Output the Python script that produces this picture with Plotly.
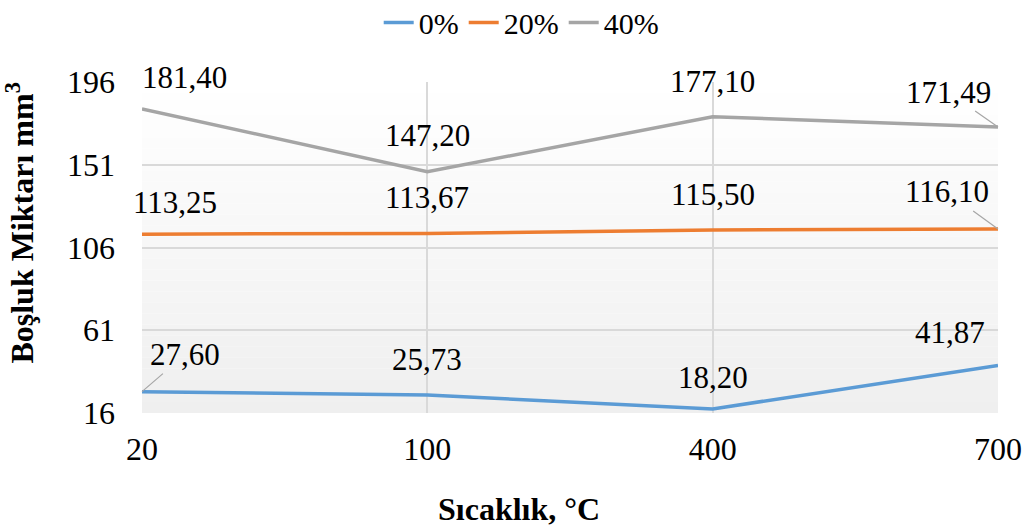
import plotly.graph_objects as go

temps = ["20", "100", "400", "700"]
series_names = ["0%", "20%", "40%"]
void_0 = [27.60, 25.73, 18.20, 41.87]
void_20 = [113.25, 113.67, 115.50, 116.10]
void_40 = [181.40, 147.20, 177.10, 171.49]
y_ticks = [16, 61, 106, 151, 196]

colors = ["#5B9BD5", "#ED7D31", "#A5A5A5"]
FONT = "Liberation Serif"

# label offsets in px (dx, dy, leader line?)
label_pos = [
    [(43, -37, True), (0, -36, False), (0, -31, False), (-48, -33, False)],
    [(33, -32, False), (0, -36, False), (0, -36, False), (-51, -37, True)],
    [(42, -31, False), (0, -36, False), (0, -35, False), (-50, -35, True)],
]

fig = go.Figure()

# gradient plot background: white at the top to light grey at the bottom
n_bands = 30
for i in range(n_bands):
    g = 255 - int(round(16 * (i + 0.5) / n_bands))
    fig.add_shape(type="rect", xref="paper", yref="paper",
                  x0=0, x1=1, y0=1 - (i + 1) / n_bands, y1=1 - i / n_bands,
                  fillcolor=f"rgb({g},{g},{g})", line_width=0, layer="below")

all_vals = [void_0, void_20, void_40]
for name, vals, col in zip(series_names, all_vals, colors):
    fig.add_trace(go.Scatter(x=temps, y=vals, name=name, mode="lines",
                             line=dict(color=col, width=3.5)))

for vals, offs in zip(all_vals, label_pos):
    for i, (v, (dx, dy, leader)) in enumerate(zip(vals, offs)):
        txt = f"{v:.2f}".replace(".", ",")
        if leader:
            fig.add_annotation(x=i, y=v, text=txt, showarrow=True, arrowhead=0,
                               arrowwidth=1.2, arrowcolor="#A6A6A6", ax=dx, ay=dy,
                               standoff=0, font=dict(family=FONT, size=31, color="black"))
        else:
            fig.add_annotation(x=i, y=v, text=txt, showarrow=False,
                               xshift=dx, yshift=-dy,
                               font=dict(family=FONT, size=31, color="black"))

fig.add_annotation(xref="paper", yref="paper", x=0.44, y=-0.29,
                   xanchor="center", yanchor="middle",
                   text="<b>Sıcaklık, °C</b>", showarrow=False,
                   font=dict(family=FONT, size=32, color="black"))
fig.add_annotation(xref="paper", yref="paper", x=-0.143, y=0.574, textangle=-90,
                   xanchor="center", yanchor="middle",
                   text="<b>Boşluk Miktarı mm<sup>3</sup></b>", showarrow=False,
                   font=dict(family=FONT, size=32, color="black"))

fig.update_layout(
    width=1024, height=527,
    margin=dict(l=142, r=26, t=82, b=114, autoexpand=False),
    paper_bgcolor="white", plot_bgcolor="rgba(0,0,0,0)",
    font=dict(family=FONT, size=31, color="black"),
    showlegend=True,
    legend=dict(orientation="h", x=0.443, xanchor="center", y=1.258, yanchor="top",
                font=dict(family="Liberation Serif, serif", size=30),
                bgcolor="rgba(0,0,0,0)"),
)
fig.update_xaxes(type="category", range=[0, 3], showgrid=True, gridcolor="#D9D9D9",
                 gridwidth=1.5, zeroline=False, ticks="", ticklabelstandoff=14,
                 tickfont=dict(family=FONT, size=32))
fig.update_yaxes(range=[16, 196], tickvals=y_ticks, showgrid=True, gridcolor="#D9D9D9",
                 gridwidth=1.5, zeroline=False, ticks="", ticklabelstandoff=26,
                 tickfont=dict(family=FONT, size=32))

fig.write_html("out.html", config={"displayModeBar": False},
               post_script="document.body.style.margin='0';")
